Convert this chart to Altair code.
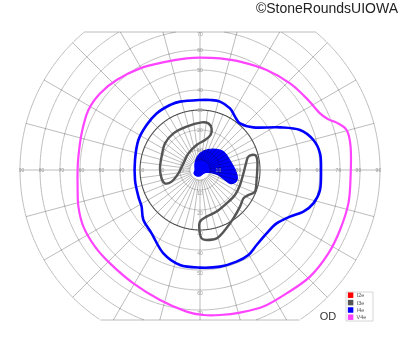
import altair as alt
import numpy as np
import pandas as pd

# ---------------- isopter outlines (degrees; +x right, +y up) ----------------
v4e_x = [0, -6.7, -16.7, -30, -41.7, -50, -55.8, -59.2, -60.8, -61.2, -61.2, -60.8, -58.3, -52.5, -45, -33.3,
         -20, -6.7, 1.7, 10, 20, 31.7, 43.3, 55, 64.2, 70, 74.2, 75.3, 75.3, 73.3, 68.3, 64.2, 60, 53.3, 45,
         33.3, 20, 10]
v4e_y = [56.2, 55.8, 54.2, 50.8, 45, 38.3, 30, 18.3, 6.7, 0, -8.3, -18.3, -28.3, -38.3, -46.7, -56.7, -65,
         -70.8, -72.5, -72.5, -71.3, -68.3, -61.7, -53.3, -41.7, -30, -16.7, -3.3, 11.7, 20, 23.7, 25.3, 28.3,
         35.8, 43.3, 50, 54.2, 55.8]

i4e_x = [0, -10, -15, -21.7, -26.7, -30.8, -32.5, -32.5, -30.8, -29.2, -28.3, -24.2, -18.3, -10, 0, 10, 18.3,
         24.2, 28.3, 33.3, 38.3, 45, 51.7, 56.7, 60, 60.5, 60, 56.7, 50, 40, 26.7, 20, 17.5, 15, 10, 5]
i4e_y = [35, 34.2, 32.5, 28.3, 22.5, 15, 5, -5, -13.3, -18.3, -25, -31.7, -41.7, -47.5, -48.8, -48.3, -45.8,
         -42.5, -37.5, -31.7, -26.7, -23.3, -20.8, -16.7, -10, 0, 8.3, 15, 20, 21.3, 21.3, 23.3, 26.7, 30.8,
         34.2, 35]

i3e_a_x = [-19.2, -17.5, -13.3, -6.7, 0.8, 4.2, 5.8, 5.3, 2.5, -1.7, -5.8, -8.3, -10.8, -14.2, -17.5, -19.2, -20]
i3e_a_y = [6.7, 13.3, 18.3, 21.7, 23.8, 23.3, 20.8, 17.5, 15, 12.5, 8.3, 3.3, -1.7, -5.8, -6.7, -4.2, 0.8]

i3e_b_x = [24.2, 27.5, 28.7, 28.3, 27.5, 24.2, 21.7, 20, 16.7, 12.5, 8.3, 3.3, 0.8, -0.3, 0, 3.3, 8.3, 13.3,
           17.5, 20, 21.7, 23]
i3e_b_y = [6.7, 7.5, 4.2, -5, -10.8, -12.5, -14.2, -18.3, -24.2, -30, -34.2, -35, -34.2, -30, -25.8, -23.3,
           -20.8, -16.7, -12.5, -7.5, -1.7, 3.3]

blob_x = [-2.5, -2.5, -1.3, 1.7, 6.7, 10.8, 13.3, 15.8, 18, 18.7, 17.5, 15, 12.5, 9.2, 5.8, 3.3, 1.7, 0.3,
          -1.7, -3]
blob_y = [0, 3.3, 6.7, 9.5, 10.5, 9.7, 7.5, 3.3, -0.8, -4.2, -6.3, -6.7, -5, -2.5, -1.3, -1.2, -1.7, -2.8,
          -3, -1.7]

# ---------------- chart furniture ----------------
circle_radii = [5, 10, 20, 30, 40, 50, 60, 70, 80, 90]
outer_meridians = list(range(0, 360, 15))
inner_meridians = [a + 7.5 for a in range(0, 360, 15)]
h_tick_values = [10, 20, 30, 40, 50, 60, 70, 80, 90]
v_tick_values = [10, 20, 30, 40, 50, 60, 70]
legend_labels = ["I2e", "I3e", "I4e", "V4e"]
legend_colors = ["#ff0000", "#555555", "#0000ff", "#ff44ff"]
TOP, BOTTOM, RMAX = 69.0, -75.0, 90.0

# grid geometry
rows = []
seg = 0
for r in circle_radii:
    t = np.radians(np.arange(0, 360.01, 0.5))
    xs, ys = r * np.cos(t), r * np.sin(t)
    inside = (ys <= TOP) & (ys >= BOTTOM)
    cur = []
    kind = "dark" if r == 30 else "grid"
    for k in range(len(t)):
        if inside[k]:
            cur.append((xs[k], ys[k]))
        else:
            if len(cur) > 1:
                rows += [dict(x=a, y=b, i=j, seg=seg, kind=kind) for j, (a, b) in enumerate(cur)]
                seg += 1
            cur = []
    if len(cur) > 1:
        rows += [dict(x=a, y=b, i=j, seg=seg, kind=kind) for j, (a, b) in enumerate(cur)]
        seg += 1


def radial_end(a):
    s = np.sin(np.radians(a))
    lim = RMAX
    if s > 1e-9:
        lim = min(lim, TOP / s)
    elif s < -1e-9:
        lim = min(lim, -BOTTOM / -s)
    return lim


for a in outer_meridians:
    e = radial_end(a)
    c, s = np.cos(np.radians(a)), np.sin(np.radians(a))
    rows += [dict(x=5 * c, y=5 * s, i=0, seg=seg, kind="grid"), dict(x=e * c, y=e * s, i=1, seg=seg, kind="grid")]
    seg += 1
for a in inner_meridians:
    c, s = np.cos(np.radians(a)), np.sin(np.radians(a))
    rows += [dict(x=5 * c, y=5 * s, i=0, seg=seg, kind="grid"), dict(x=30 * c, y=30 * s, i=1, seg=seg, kind="grid")]
    seg += 1
for yy in [TOP, BOTTOM]:
    hx = float(np.sqrt(RMAX ** 2 - yy ** 2))
    rows += [dict(x=-hx, y=yy, i=0, seg=seg, kind="grid"), dict(x=hx, y=yy, i=1, seg=seg, kind="grid")]
    seg += 1
grid = pd.DataFrame(rows)

X = alt.X("x:Q", scale=alt.Scale(domain=[-100, 100], nice=False, zero=False), axis=None)
Y = alt.Y("y:Q", scale=alt.Scale(domain=[-91, 85], nice=False, zero=False), axis=None)


def loop(xs, ys):
    return pd.DataFrame(dict(x=xs, y=ys, i=range(len(xs))))


blob = alt.Chart(loop(blob_x, blob_y)).mark_line(
    interpolate="cardinal-closed", fill="#0000ff", stroke="#0000ff", strokeWidth=1.2, fillOpacity=1
).encode(x=X, y=Y, order="i:Q")

grid_layer = alt.Chart(grid[grid.kind == "grid"]).mark_line(
    color="#b4b4b4", strokeWidth=0.9, blend="multiply").encode(x=X, y=Y, detail="seg:N", order="i:Q")
dark_layer = alt.Chart(grid[grid.kind == "dark"]).mark_line(color="#505050", strokeWidth=1.1).encode(
    x=X, y=Y, detail="seg:N", order="i:Q")

# tick labels
lab = []
for v in h_tick_values:
    lab.append(dict(x=-v + 0.8, y=0, t=str(v)))
    lab.append(dict(x=v - 0.8, y=0, t=str(v)))
for v in v_tick_values:
    lab.append(dict(x=0, y=min(v, 67.8), t=str(v)))
    lab.append(dict(x=0, y=-v - 1.5, t=str(v)))
labels = pd.DataFrame(lab)
label_layer = alt.Chart(labels).mark_text(fontSize=5, color="#999999", font="Liberation Sans",
                                          baseline="middle", align="center").encode(x=X, y=Y, text="t:N")


def iso(xs, ys, color, w):
    return alt.Chart(loop(xs, ys)).mark_line(interpolate="cardinal-closed", color=color, strokeWidth=w).encode(
        x=X, y=Y, order="i:Q")


v4e = iso(v4e_x, v4e_y, "#ff44ff", 2.2)
i4e = iso(i4e_x, i4e_y, "#0000ff", 2.6)
i3a = iso(i3e_a_x, i3e_a_y, "#555555", 2.4)
i3b = iso(i3e_b_x, i3e_b_y, "#555555", 2.4)

# legend
leg = pd.DataFrame(dict(label=legend_labels, color=legend_colors,
                        x=[75.3] * 4, tx=[78.3] * 4, y=[-62.6, -66.3, -70.0, -73.6]))
leg_box = alt.Chart(pd.DataFrame(dict(x=[73.0], x2=[86.5], y=[-61.0], y2=[-75.5]))).mark_rect(
    fill="white", stroke="#cccccc", strokeWidth=0.8).encode(x=X, x2="x2:Q", y=Y, y2="y2:Q")
leg_sym = alt.Chart(leg).mark_square(size=30, opacity=1).encode(
    x=X, y=Y, color=alt.Color("color:N", scale=None))
leg_txt = alt.Chart(leg).mark_text(fontSize=5.5, align="left", baseline="middle", color="#555555",
                                   font="Liberation Sans").encode(
    x=alt.X("tx:Q", scale=alt.Scale(domain=[-100, 100], nice=False, zero=False), axis=None), y=Y, text="label:N")

od = alt.Chart(pd.DataFrame(dict(x=[64.0], y=[-73.3], t=["OD"]))).mark_text(
    fontSize=11, font="Liberation Sans", color="#333333", baseline="middle", align="center").encode(
    x=X, y=Y, text="t:N")
title = alt.Chart(pd.DataFrame(dict(x=[99.0], y=[80.5], t=["©StoneRoundsUIOWA"]))).mark_text(
    fontSize=14, font="Liberation Sans", color="#222222", baseline="middle", align="right").encode(
    x=X, y=Y, text="t:N")

chart = alt.layer(blob, grid_layer, dark_layer, label_layer, v4e, i4e, i3a, i3b,
                  leg_box, leg_sym, leg_txt, od, title).properties(
    width=400, height=352, padding=0, autosize=alt.AutoSizeParams(type="none")
).configure_view(stroke=None)

chart.save("out.html", embed_options={"renderer": "svg", "actions": False})
